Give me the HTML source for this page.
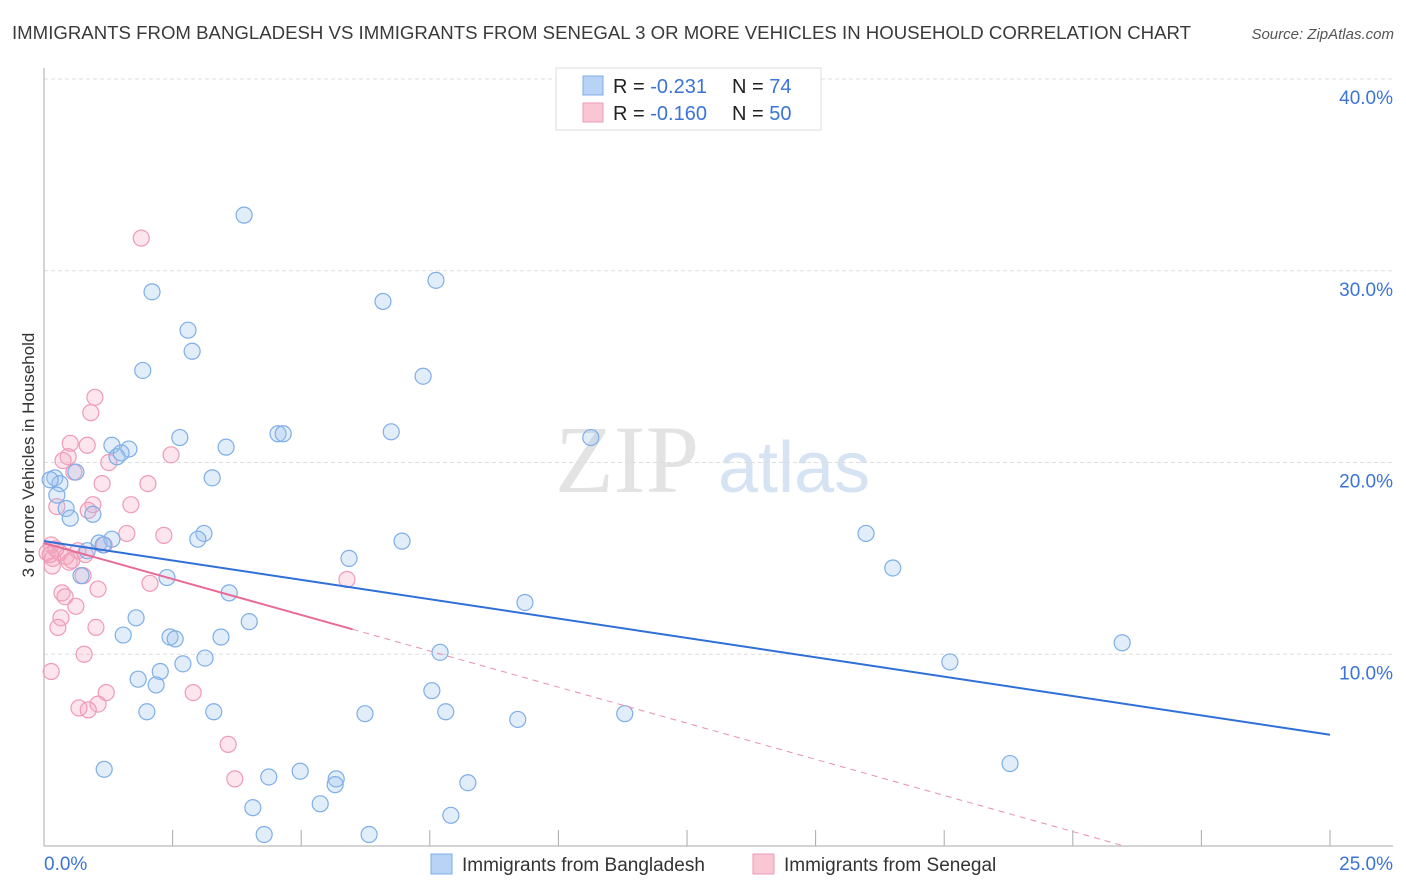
<!DOCTYPE html>
<html><head><meta charset="utf-8"><style>
body{margin:0;background:#fff;font-family:"Liberation Sans",sans-serif;}
svg{display:block}
</style></head><body>
<svg id="chart" width="1406" height="892">
<text x="12" y="39" font-size="18" fill="#3a3a3a" textLength="1179" lengthAdjust="spacingAndGlyphs">IMMIGRANTS FROM BANGLADESH VS IMMIGRANTS FROM SENEGAL 3 OR MORE VEHICLES IN HOUSEHOLD CORRELATION CHART</text>
<text x="1394" y="39" font-size="15" font-style="italic" fill="#555" text-anchor="end">Source: ZipAtlas.com</text>
<text x="555" y="492" font-size="96" font-family="Liberation Serif" fill="#e3e3e3">ZIP</text>
<text x="718" y="492" font-size="72" fill="#d6e3f3">atlas</text>
<g id="grid"></g><g id="axes"></g><g id="pts"></g><g id="trend"></g>
<text x="34" y="455" font-size="17" fill="#333" text-anchor="middle" transform="rotate(-90 34 455)">3 or more Vehicles in Household</text>
<g>
<rect x="556" y="68" width="265" height="62" fill="#fff" stroke="#ddd"/>
<rect x="583" y="76" width="20" height="19" fill="#b8d3f5" stroke="#7eaee8"/>
<rect x="583" y="103" width="20" height="19" fill="#f9c6d4" stroke="#ef9ab6"/>
<text x="613" y="93" font-size="20" fill="#222">R = <tspan fill="#3b74d6">-0.231</tspan><tspan x="732">N = </tspan><tspan fill="#3b74d6">74</tspan></text>
<text x="613" y="120" font-size="20" fill="#222">R = <tspan fill="#3b74d6">-0.160</tspan><tspan x="732">N = </tspan><tspan fill="#3b74d6">50</tspan></text>
</g>
<g>
<rect x="431" y="854" width="21" height="20" fill="#b8d3f5" stroke="#7eaee8"/>
<text x="462" y="871" font-size="19" fill="#333">Immigrants from Bangladesh</text>
<rect x="753" y="854" width="21" height="20" fill="#f9c6d4" stroke="#ef9ab6"/>
<text x="784" y="871" font-size="19" fill="#333">Immigrants from Senegal</text>
</g>
</svg>
<script>
const yTicks=[10,20,30,40];
const yTickLabels=["10.0%","20.0%","30.0%","40.0%"];
const xTicks=[0,2.5,5,7.5,10,12.5,15,17.5,20,22.5,25];
const blueX=[3.89,7.62,2.10,6.59,2.80,2.88,1.92,7.37,6.75,2.64,4.55,4.65,10.63,1.32,1.65,1.42,1.50,3.54,0.62,3.27,0.21,0.31,0.25,0.43,0.95,0.51,3.11,2.99,15.98,6.96,1.07,1.32,1.15,5.93,0.84,0.72,2.39,16.5,3.60,9.35,1.79,3.99,1.54,2.45,2.55,3.44,7.70,17.61,20.96,3.13,2.70,2.26,1.83,2.18,7.54,2.00,3.30,6.24,7.81,9.21,11.29,1.17,4.37,4.98,5.68,5.66,8.24,18.78,4.06,5.37,7.91,4.28,6.32,0.12];
const blueY=[32.9,29.5,28.9,28.4,26.9,25.8,24.8,24.5,21.6,21.3,21.5,21.5,21.3,20.9,20.7,20.3,20.5,20.8,19.5,19.2,19.2,18.9,18.3,17.6,17.3,17.1,16.3,16.0,16.3,15.9,15.8,16.0,15.7,15.0,15.4,14.1,14.0,14.5,13.2,12.7,11.9,11.7,11.0,10.9,10.8,10.9,10.1,9.6,10.6,9.8,9.5,9.1,8.7,8.4,8.1,7.0,7.0,6.9,7.0,6.6,6.9,4.0,3.6,3.9,3.5,3.2,3.3,4.3,2.0,2.2,1.6,0.6,0.6,19.1];
const pinkX=[1.89,0.99,0.91,0.51,0.84,0.47,0.37,2.47,1.26,0.58,1.13,2.02,0.25,0.95,1.69,0.86,1.61,2.33,0.14,1.17,0.31,0.66,0.06,0.17,0.80,0.49,0.16,0.76,2.06,5.89,1.05,0.35,0.41,0.62,0.33,0.27,1.01,0.78,0.14,1.21,2.90,1.05,0.68,0.86,3.58,3.71,0.12,0.43,0.23,0.54];
const pinkY=[31.7,23.4,22.6,21.0,20.9,20.3,20.1,20.4,20.0,19.5,18.9,18.9,17.7,17.8,17.8,17.5,16.3,16.2,15.7,15.7,15.3,15.4,15.3,15.0,15.2,14.8,14.6,14.1,13.7,13.9,13.4,13.2,13.0,12.5,11.9,11.4,11.4,10.0,9.1,8.0,8.0,7.4,7.2,7.1,5.3,3.5,15.2,15.1,15.5,14.9];
const blueTrend=[0,15.9,25,5.8];
const pinkTrend=[0,15.8,6.0,11.3,21.0,0];
const NS="http://www.w3.org/2000/svg";
const X0=44,X1=1330,Y0=846,PY=19.175;
const sx=v=>X0+(X1-X0)*v/25, sy=v=>Y0-PY*v;
function mk(tag,attrs,parent){const e=document.createElementNS(NS,tag);for(const k in attrs)e.setAttribute(k,attrs[k]);document.getElementById(parent).appendChild(e);return e;}
yTicks.forEach((t,i)=>{
 const l=mk('line',{x1:44,x2:1393,y1:sy(t),y2:sy(t),stroke:'#ddd','stroke-dasharray':'4,3'},'grid');
 
 
 const tx=mk('text',{x:1393,y:sy(t)+25,'font-size':19,fill:'#3b74d6','text-anchor':'end'},'grid');
 tx.textContent=yTickLabels[i];
 
 
});
let a=mk('line',{x1:44,x2:44,y1:68,y2:846,stroke:'#aaa'},'axes');


a=mk('line',{x1:44,x2:1393,y1:846,y2:846,stroke:'#aaa'},'axes');


xTicks.forEach(t=>{const l=mk('line',{x1:sx(t),x2:sx(t),y1:830,y2:846,stroke:'#aaa'},'axes');
 
 });
let t=mk('text',{x:44,y:870,'font-size':19,fill:'#3b74d6'},'axes');t.textContent='0.0%';


t=mk('text',{x:1393,y:870,'font-size':19,fill:'#3b74d6','text-anchor':'end'},'axes');t.textContent='25.0%';


pinkX.forEach((x,i)=>{const c=mk('circle',{cx:sx(x),cy:sy(pinkY[i]),r:8,fill:'rgba(245,170,195,0.3)',stroke:'#ef9ab6','stroke-width':1.2},'pts');
 
 });
blueX.forEach((x,i)=>{const c=mk('circle',{cx:sx(x),cy:sy(blueY[i]),r:8,fill:'rgba(160,196,240,0.3)',stroke:'#7eaee8','stroke-width':1.2},'pts');
 
 });
let l=mk('line',{x1:sx(blueTrend[0]),y1:sy(blueTrend[1]),x2:sx(blueTrend[2]),y2:sy(blueTrend[3]),stroke:'#2f6fd8','stroke-width':2},'trend');


l=mk('line',{x1:sx(pinkTrend[2]),y1:sy(pinkTrend[3]),x2:sx(pinkTrend[4]),y2:sy(pinkTrend[5]),stroke:'#e891ad','stroke-width':1,'stroke-dasharray':'6,5'},'trend');


l=mk('line',{x1:sx(pinkTrend[0]),y1:sy(pinkTrend[1]),x2:sx(pinkTrend[2]),y2:sy(pinkTrend[3]),stroke:'#e86a96','stroke-width':2},'trend');


</script>
</body></html>
